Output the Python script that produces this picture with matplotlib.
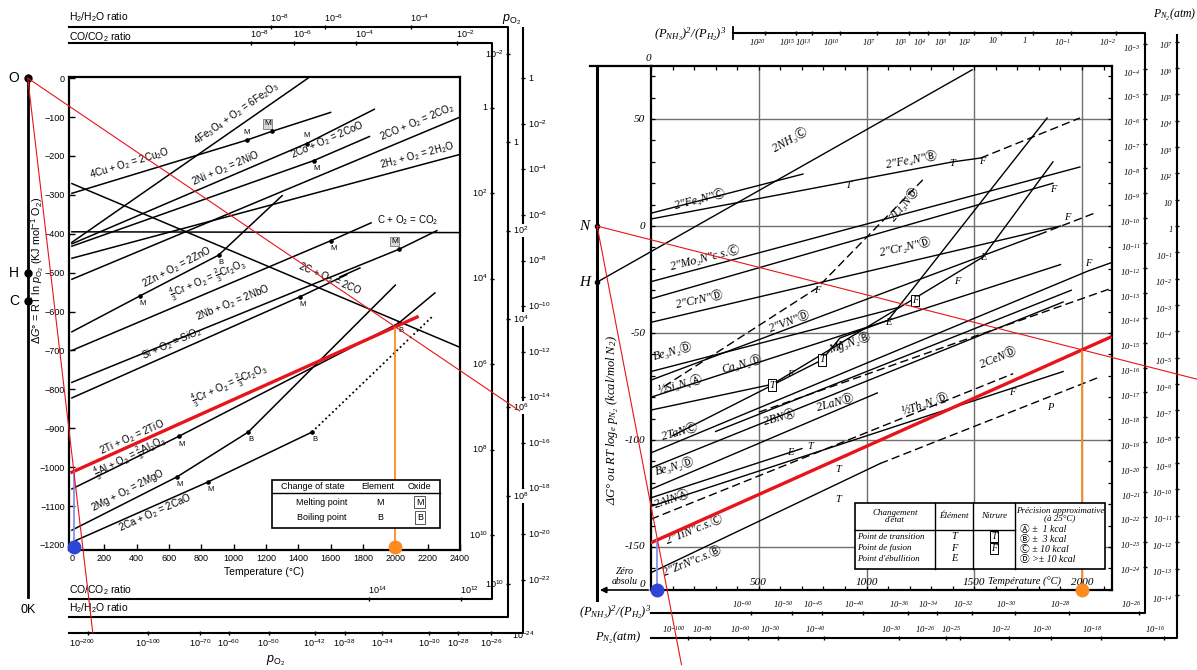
import numpy as np
import matplotlib.pyplot as plt
from matplotlib.patches import Rectangle

plt.rcParams['font.family'] = ['Liberation Sans', 'DejaVu Sans']
plt.rcParams['mathtext.fontset'] = 'custom'
plt.rcParams['mathtext.rm'] = 'Liberation Sans'
plt.rcParams['mathtext.it'] = 'Liberation Sans:italic'
plt.rcParams['mathtext.bf'] = 'Liberation Sans:bold'

SERIF = ['Liberation Serif', 'DejaVu Sans', 'Noto Sans CJK JP']
RED, BLUE, ORANGE = '#e8141c', '#2f45d8', '#ff8a1e'

# ==============================================================================
# Oxides: standard free energy (kJ per mol O2) against temperature (degC)
# marks: M/B = melting/boiling of element, [M] = melting of oxide, ^ = label above
# ==============================================================================
cu2o_T = [0, 1083, 1235, 1600]
cu2o_G = [-296, -159, -137, -88]
cu2o_m = ['', 'M^', '[M]', '']
fe2o3_T = [0, 1460]
fe2o3_G = [-422, 0]
nio_T = [0, 1452, 1870]
nio_G = [-426, -168, -80]
nio_m = ['', 'M^', '']
coo_T = [0, 1495, 1840]
coo_G = [-432, -212, -150]
coo_m = ['', 'M', '']
co2co_T = [0, 2400]
co2co_G = [-517, -100]
h2o_T = [0, 2400]
h2o_G = [-463, -196]
co2c_T = [0, 2400]
co2c_G = [-395, -397]
coc_T = [0, 2400]
coc_G = [-271, -692]
zno_T = [0, 420, 907, 1300]
zno_G = [-652, -560, -455, -302]
zno_m = ['', 'M', 'B', '']
cr2o3_T = [0, 1600, 1850]
cr2o3_G = [-700, -418, -372]
cr2o3_m = ['', 'M', '']
nbo_T = [0, 2022, 2257]
nbo_G = [-782, -440, -392]
nbo_m = ['', '[M]', '']
sio2_T = [0, 1410, 1700]
sio2_G = [-822, -562, -505]
sio2_m = ['', 'M', '']
mno_T = [1657, 1781]
mno_G = [-511, -488]
tio_T = [0, 2135]
tio_G = [-1013, -614]
al2o3_T = [0, 660, 2020, 2245]
al2o3_G = [-1056, -921, -630, -552]
al2o3_m = ['', 'M', 'B', '']
mgo_T = [0, 650, 1090, 2000]
mgo_G = [-1162, -1025, -910, -532]
mgo_m = ['', 'M', 'B', '']
cao_T = [0, 842, 1484]
cao_G = [-1193, -1038, -910]
cao_m = ['', 'M', 'B']
cao_gas_T = [1484, 2226]
cao_gas_G = [-910, -614]

# reading temperatures marked on the highlighted line
read_lo_T, read_hi_T = 12, 2000

# nomogram scales (powers of ten)
po2_right_exp = [0, -2, -4, -6, -8, -10, -12, -14, -16, -18, -20, -22]
po2_bottom_exp = [-200, -100, -70, -60, -50, -42, -38, -34, -30, -28, -26, -24]
h2_top_exp = [-8, -6, -4]
h2_right_exp = [-2, 0, 2, 4, 6, 8, 10]
co_top_exp = [-8, -6, -4, -2]
co_right_exp = [0, 2, 4, 6, 8, 10]
co_bottom_exp = [14, 12]

# ==============================================================================
# Nitrides: deltaG (kcal per mol N2) against temperature (degC)
# ==============================================================================
nh3_T = [-250, 1490]
nh3_G = [-26.2, 73]
fe4n_c_T = [0, 705]
fe4n_c_G = [6, 24.3]
fe4n_b_T = [0, 1400, 1530]
fe4n_b_G = [3.3, 30, 31.8]
fe4n_b2_T = [1530, 1990]
fe4n_b2_G = [31.8, 50.5]
mo2n_T = [0, 1990]
mo2n_G = [-26, 27.6]
cr2n_T = [0, 1865]
cr2n_G = [-34, 20]
crn_T = [0, 1900]
crn_G = [-45, 0]
vn_T = [0, 1800]
vn_G = [-72, -4]
vn2_T = [1800, 2070]
vn2_G = [-4, 6.5]
li3n_T = [60, 770, 1265]
li3n_G = [-75, -29, 22]
be3n2_T = [0, 1150]
be3n2_G = [-68, -38]
si3n4_T = [0, 1900]
si3n4_G = [-80, -18]
ca3n2_T = [0, 561, 645, 1540, 1865]
ca3n2_G = [-86, -74, -69, -14.5, 30]
mg3n2_T = [100, 793, 877, 1100, 1838]
mg3n2_G = [-98, -62.6, -52.3, -44, 50.5]
bn_T = [300, 1950]
bn_G = [-96, -30]
tan_T = [0, 2028, 2139]
tan_G = [-106, -21, -17]
ta2n_T = [500, 2139]
ta2n_G = [-87, -29]
cen_T = [0, 1912]
cen_G = [-113, -35.5]
lan_T = [0, 1050]
lan_G = [-123, -78]
be3n2b_T = [0, 700]
be3n2b_G = [-127, -104]
th3n4_T = [0, 1912]
th3n4_G = [-131, -68]
aln_T = [0, 1680]
aln_G = [-137, -69]
tin_T = [0, 2130]
tin_G = [-148, -52]
zrn_T = [0, 1063]
zrn_G = [-162, -111]
zrn2_T = [1063, 2070]
zrn2_G = [-111, -71]

# phase change letters on the nitride lines
nmark_T = [914, 1397, 1536, 1865, 1930, 770, 2028, 1540, 1100, 1225, 1420, 877,
           793, 561, 645, 738, 645, 868, 868, 1675, 1852]
nmark_G = [19, 29.4, 30, 17, 4, -30, -17.3, -14.5, -45, -34.6, -26, -55.6,
           -62.6, -74.3, -69.6, -103, -106, -114, -128, -77.6, -85]
nmark_txt = ['T', 'T', 'F', 'F', 'F', 'F', 'F', 'E', 'E', '[F]', 'F', 'F',
             '[T]', '[T]', 'F', 'T', 'E', 'T', 'T', 'F', 'P']

nh3_top_exp = [20, 15, 13, 10, 7, 5, 4, 3, 2, 1, 0, -1, -2]
nh3_right_exp = list(range(-3, -25, -1))
nh3_bottom_exp = [-60, -50, -45, -40, -36, -34, -32, -30, -28, -26]
pn2_right_exp = list(range(7, -15, -1))
pn2_bottom_exp = [-100, -80, -60, -50, -40, -30, -26, -25, -22, -20, -18, -16]


# ==============================================================================
# helpers
# ==============================================================================
fig = plt.figure(figsize=(11.97, 6.70), dpi=100)
FW, FH = 1197.0, 670.0


def frac_box(x0, y0, x1, y1):
    return [x0 / FW, 1 - y1 / FH, (x1 - x0) / FW, (y1 - y0) / FH]


def seg_angle(ax, T, G, t):
    i = int(np.clip(np.searchsorted(T, t) - 1, 0, len(T) - 2))
    p = ax.transData.transform([(T[i], G[i]), (T[i + 1], G[i + 1])])
    return np.degrees(np.arctan2(p[1, 1] - p[0, 1], p[1, 0] - p[0, 0]))


def put_marks(ax, T, G, marks):
    for t, g, m in zip(T, G, marks):
        if not m:
            continue
        ax.plot(t, g, 'o', ms=2.3, color='k', zorder=4)
        if m == 'M^':
            ax.annotate('M', (t, g), xytext=(0, 3), textcoords='offset points',
                        fontsize=5.5, ha='center', va='bottom')
        elif m == '[M]':
            ax.annotate('M', (t, g), xytext=(-3, 3), textcoords='offset points',
                        fontsize=6, ha='center', va='bottom',
                        bbox=dict(boxstyle='square,pad=0.15', fc='#d8d8d8', ec='#777777', lw=0.6))
        else:
            ax.annotate(m, (t, g), xytext=(2, -3), textcoords='offset points',
                        fontsize=5.5, ha='center', va='top')


def exp_label(e, regular=False):
    if e == 0:
        return '1'
    if regular:
        return '10' if e == 1 else r'$\mathregular{10^{%d}}$' % e
    return r'10$^{%d}$' % e


# ==============================================================================
# left diagram: oxides
# ==============================================================================
ax = fig.add_axes(frac_box(69, 77, 460, 550))
ax.set_xlim(-18, 2400)
ax.set_ylim(-1213, 3)
ax.set_xticks(range(0, 2401, 200))
ax.set_yticks(range(-1200, 1, 100))
ax.tick_params(direction='in', length=4, width=1, labelsize=6.5, pad=3)
for s in ax.spines.values():
    s.set_linewidth(1.6)
ax.set_xlabel('Temperature (°C)', fontsize=7.5, labelpad=3)

ox_lines = [(cu2o_T, cu2o_G, cu2o_m), (fe2o3_T, fe2o3_G, None), (nio_T, nio_G, nio_m),
            (coo_T, coo_G, coo_m), (co2co_T, co2co_G, None), (h2o_T, h2o_G, None),
            (co2c_T, co2c_G, None), (coc_T, coc_G, None), (zno_T, zno_G, zno_m),
            (cr2o3_T, cr2o3_G, cr2o3_m), (nbo_T, nbo_G, nbo_m), (sio2_T, sio2_G, sio2_m),
            (mno_T, mno_G, None), (tio_T, tio_G, None), (al2o3_T, al2o3_G, al2o3_m),
            (mgo_T, mgo_G, mgo_m), (cao_T, cao_G, cao_m)]
for T, G, m in ox_lines:
    ax.plot(T, G, color='k', lw=1.1, zorder=3)
    if m:
        put_marks(ax, T, G, m)
ax.plot(cao_gas_T, cao_gas_G, color='k', lw=1.3, ls=(0, (1, 1.6)), zorder=3)

ox_labels = [
    (r'4Cu + O$_2$ = 2Cu$_2$O', 359, -218, cu2o_T, cu2o_G),
    (r'4Fe$_3$O$_4$ + O$_2$ = 6Fe$_2$O$_3$', 1020, -92, fe2o3_T, fe2o3_G),
    (r'2Ni + O$_2$ = 2NiO', 952, -232, nio_T, nio_G),
    (r'2Co + O$_2$ = 2CoO', 1583, -159, coo_T, coo_G),
    (r'2CO + O$_2$ = 2CO$_2$', 2134, -113, co2co_T, co2co_G),
    (r'2H$_2$ + O$_2$ = 2H$_2$O', 2134, -198, h2o_T, h2o_G),
    (r'C + O$_2$ = CO$_2$', 2078, -365, co2c_T, co2c_G),
    (r'2C + O$_2$ = 2CO', 1596, -516, coc_T, coc_G),
    (r'2Zn + O$_2$ = 2ZnO', 649, -485, zno_T, zno_G),
    (r'$\frac{4}{3}$Cr + O$_2$ = $\frac{2}{3}$Cr$_2$O$_3$', 841, -519, cr2o3_T, cr2o3_G),
    (r'2Nb + O$_2$ = 2NbO', 996, -578, nbo_T, nbo_G),
    (r'Si + O$_2$ = SiO$_2$', 618, -683, sio2_T, sio2_G),
    (r'$\frac{4}{3}$Cr + O$_2$ = $\frac{2}{3}$Cr$_2$O$_3$', 977, -789, tio_T, tio_G),
    (r'2Ti + O$_2$ = 2TiO', 371, -922, tio_T, tio_G),
    (r'$\frac{4}{3}$Al + O$_2$ = $\frac{2}{3}$Al$_2$O$_3$', 359, -975, al2o3_T, al2o3_G),
    (r'2Mg + O$_2$ = 2MgO', 346, -1061, mgo_T, mgo_G),
    (r'2Ca + O$_2$ = 2CaO', 513, -1118, cao_T, cao_G),
]
for txt, t, g, T, G in ox_labels:
    ax.text(t, g, txt, fontsize=7, ha='center', va='center',
            rotation=seg_angle(ax, T, G, t), rotation_mode='anchor', zorder=4)

# highlighted line and readings
ax.plot(tio_T, tio_G, color=RED, lw=2.4, zorder=5)
g_lo = np.interp(read_lo_T, tio_T, tio_G)
g_hi = np.interp(read_hi_T, tio_T, tio_G)
ax.plot([read_lo_T, read_lo_T], [g_lo, -1205], color='#8391ea', lw=1.3, zorder=5)
ax.plot([read_hi_T, read_hi_T], [g_hi, -1205], color=ORANGE, lw=1.3, zorder=5)
ax.plot(read_lo_T, -1205, 'o', ms=9, color=BLUE, zorder=8, clip_on=False)
ax.plot(read_hi_T, -1205, 'o', ms=9, color=ORANGE, zorder=8, clip_on=False)

# change-of-state table
tb_T0, tb_T1, tb_Gt, tb_Gb, tb_Gh = 1237, 2276, -1033, -1157, -1066
ax.add_patch(Rectangle((tb_T0, tb_Gb), tb_T1 - tb_T0, tb_Gt - tb_Gb, fc='white', ec='k', lw=1.2, zorder=6))
ax.plot([tb_T0, tb_T1], [tb_Gh, tb_Gh], color='k', lw=1, zorder=7)
for txt, t in [('Change of state', 1490), ('Element', 1892), ('Oxide', 2152)]:
    ax.text(t, -1049, txt, fontsize=6.5, ha='center', va='center', zorder=7)
for txt, sym, g in [('Melting point', 'M', -1090), ('Boiling point', 'B', -1130)]:
    ax.text(1545, g, txt, fontsize=6.5, ha='center', va='center', zorder=7)
    ax.text(1905, g, sym, fontsize=6.5, ha='center', va='center', zorder=7)
    ax.text(2152, g, sym, fontsize=6.5, ha='center', va='center', zorder=7,
            bbox=dict(boxstyle='square,pad=0.2', fc='white', ec='#555555', lw=0.7))

# ---------------- nomogram around the oxide diagram ----------------
R_KJ = 8.314e-3
T_ABS = -273.0
T_LEFT = -18
PO2_T, PO2_G, PO2_TOP = 2789, -1426, 130
H2_TOP, H2_T, H2_BOT = 131, 2696, -1385
CO_TOP, CO_T, CO_BOT = 90, 2597, -1339
G_H, B_H = -500, 0.113
G_C, B_C = -573, 0.1733
G_ZERO_END = -1334

kw_line = dict(color='k', lw=1.5, clip_on=False, zorder=3, solid_capstyle='projecting')
ax.plot([T_ABS, T_ABS], [0, G_ZERO_END], color='k', lw=2, clip_on=False)
for g, name in [(0, 'O'), (G_H, 'H'), (G_C, 'C')]:
    ax.plot(T_ABS, g, 'o', ms=5, color='k', clip_on=False, zorder=6)
    ax.annotate(name, (T_ABS, g), xytext=(-10, 0), textcoords='offset points',
                fontsize=10, ha='center', va='center', annotation_clip=False)
ax.annotate('0K', (T_ABS, G_ZERO_END), xytext=(0, -5), textcoords='offset points',
            fontsize=9, ha='center', va='top', annotation_clip=False)
ax.text(-212, -495, r'$\Delta G°$ = RT ln $p_{\mathrm{O_2}}$ (KJ mol$^{-1}$ O$_2$)',
        rotation=90, fontsize=7.8, ha='center', va='center')

ax.plot([T_LEFT, PO2_T, PO2_T], [PO2_G, PO2_G, PO2_TOP], **kw_line)
ax.plot([T_LEFT, H2_T, H2_T, T_LEFT], [H2_TOP, H2_TOP, H2_BOT, H2_BOT], **kw_line)
ax.plot([T_LEFT, CO_T, CO_T, T_LEFT], [CO_TOP, CO_TOP, CO_BOT, CO_BOT], **kw_line)

ax.text(T_LEFT, 158, r'H$_2$/H$_2$O ratio', fontsize=7.5, ha='left', va='center')
ax.text(T_LEFT, 106, r'CO/CO$_2$ ratio', fontsize=7.5, ha='left', va='center')
ax.text(T_LEFT, -1315, r'CO/CO$_2$ ratio', fontsize=7.5, ha='left', va='center')
ax.text(T_LEFT, -1362, r'H$_2$/H$_2$O ratio', fontsize=7.5, ha='left', va='center')
ax.text(1260, -1497, r'$p_{\mathrm{O_2}}$', fontsize=9, ha='center', va='center')
ax.text(2720, 150, r'$p_{\mathrm{O_2}}$', fontsize=9, ha='center', va='center')


def hit(g0, slope, t_side, g_top, g_bot):
    g = g0 + slope * (t_side - T_ABS)
    if g > g_top:
        return (g_top - g0) / slope + T_ABS, g_top, 'top'
    if g < g_bot:
        return (g_bot - g0) / slope + T_ABS, g_bot, 'bottom'
    return t_side, g, 'side'


def scale_tick(ax, t, g, side, label, lab_side, fs=6.5, white=False, tick=True, dx=0, **tkw):
    if tick:
        ax.plot(t, g, marker='|' if side in ('top', 'bottom') else '_', ms=3.5, mew=1,
                color='k', clip_on=False, zorder=4)
    off = {'above': ((6, 2), 'center', 'bottom'), 'below': ((0, -3), 'center', 'top'),
           'right': ((4, 0), 'left', 'center'), 'left': ((-3, 0), 'right', 'center'),
           'below_l': ((-6, -3), 'center', 'top'), 'above_l': ((-6, 2), 'center', 'bottom'),
           'left_d': ((-3, -3), 'right', 'center')}[lab_side]
    bb = dict(boxstyle='square,pad=0.1', fc='white', ec='none') if white else None
    ax.annotate(label, (t, g), xytext=(off[0][0] + dx, off[0][1]), textcoords='offset points',
                ha=off[1], va=off[2], fontsize=fs, annotation_clip=False, bbox=bb, zorder=5, **tkw)


for e in po2_right_exp:
    t, g, side = hit(0, R_KJ * e * np.log(10), PO2_T, np.inf, PO2_G)
    scale_tick(ax, t, g, side, exp_label(e), 'right')
for e in po2_bottom_exp:
    t, g, side = hit(0, R_KJ * e * np.log(10), PO2_T, np.inf, PO2_G)
    scale_tick(ax, t, g, side, exp_label(e), 'below', tick=(side == 'bottom' and t < PO2_T),
               dx=-4 if e == -200 else 0)
for e in h2_top_exp + h2_right_exp:
    t, g, side = hit(G_H, B_H - 2 * R_KJ * e * np.log(10), H2_T, H2_TOP, H2_BOT)
    lab = 'above' if side == 'top' else ('left' if e in (-2, 10) else 'right')
    scale_tick(ax, t, g, side, exp_label(e), lab, white=(lab == 'right'))
for e in co_top_exp + co_right_exp + co_bottom_exp:
    t, g, side = hit(G_C, B_C - 2 * R_KJ * e * np.log(10), CO_T, CO_TOP, CO_BOT)
    lab = {'top': 'above', 'side': 'left', 'bottom': 'above'}[side]
    scale_tick(ax, t, g, side, exp_label(e), lab)

# rays from O through the two readings
s_lo = g_lo / (read_lo_T - T_ABS)
s_hi = g_hi / (read_hi_T - T_ABS)
ax.plot([T_ABS, PO2_G / s_lo + T_ABS], [0, PO2_G], color=RED, lw=0.8, clip_on=False, zorder=6)
ax.plot([T_ABS, PO2_T - 20], [0, s_hi * (PO2_T - 20 - T_ABS)], color=RED, lw=0.8, clip_on=False, zorder=6)

# ==============================================================================
# right diagram: nitrides
# ==============================================================================
axr = fig.add_axes(frac_box(651, 66, 1112, 590))
axr.set_xlim(0, 2139)
axr.set_ylim(-170.1, 74.8)
axr.set_xticks(range(0, 2101, 100))
axr.set_yticks(range(-170, 71, 10))
axr.tick_params(direction='in', length=3, width=0.9, labelbottom=False, labelleft=False,
                top=True, right=True)
for s in axr.spines.values():
    s.set_linewidth(1.6)
for t in [500, 1000, 1500, 2000]:
    axr.axvline(t, color='#6f6f6f', lw=1.0, zorder=1)
for g in [50, 0, -50, -100, -150]:
    axr.axhline(g, color='#6f6f6f', lw=1.0, zorder=1)

itf = dict(family=SERIF, style='italic')
for g, s in [(50, '50'), (0, '0'), (-50, '-50'), (-100, '-100'), (-150, '-150')]:
    axr.annotate(s, (0, g), xytext=(-4, 0), textcoords='offset points', ha='right', va='center',
                 fontsize=8, annotation_clip=False, **itf)
for t in [500, 1000, 1500, 2000]:
    axr.text(t, -166.5, str(t), fontsize=8, ha='center', va='center', zorder=7, **itf)
axr.text(1735, -166.5, 'Température (°C)', fontsize=7.5, ha='center', va='center', zorder=7, **itf)
axr.annotate('0', (0, 74.8), xytext=(-2, 2), textcoords='offset points', ha='center', va='bottom',
             fontsize=8, annotation_clip=False, **itf)
axr.annotate('0', (0, -170.1), xytext=(-4, 1), textcoords='offset points', ha='right', va='bottom',
             fontsize=8, annotation_clip=False, **itf)

n_solid = [(nh3_T, nh3_G), (fe4n_c_T, fe4n_c_G), (fe4n_b_T, fe4n_b_G), (mo2n_T, mo2n_G),
           (cr2n_T, cr2n_G), (crn_T, crn_G), (vn_T, vn_G), (be3n2_T, be3n2_G),
           (si3n4_T, si3n4_G), (ca3n2_T, ca3n2_G), (mg3n2_T, mg3n2_G), (bn_T, bn_G),
           (tan_T, tan_G), (cen_T, cen_G), (lan_T, lan_G), (be3n2b_T, be3n2b_G),
           (th3n4_T, th3n4_G), (tin_T, tin_G), (zrn_T, zrn_G)]
n_dashed = [(fe4n_b2_T, fe4n_b2_G), (vn2_T, vn2_G), (li3n_T, li3n_G), (ta2n_T, ta2n_G),
            (aln_T, aln_G), (zrn2_T, zrn2_G)]
for T, G in n_solid:
    axr.plot(T, G, color='k', lw=1.0, zorder=3, clip_on=False)
for T, G in n_dashed:
    axr.plot(T, G, color='k', lw=1.0, ls=(0, (6, 3)), zorder=3)

for t, g, s in zip(nmark_T, nmark_G, nmark_txt):
    boxed = s.startswith('[')
    axr.text(t, g, s.strip('[]'), fontsize=7.5, ha='center', va='center', zorder=4,
             bbox=dict(boxstyle='square,pad=0.1', fc='white', ec='k', lw=0.7) if boxed else None, **itf)

n_labels = [
    ('2NH₃Ⓒ', 645, 40.2, 29),
    ('2"Fe₄N"Ⓒ', 227, 12.1, 14),
    ('2"Fe₄N"Ⓑ', 1211, 30.8, 10),
    ('2Li₃NⒹ', 1179, 9.8, 50),
    ('2"Mo₂N"c.s.Ⓒ', 251, -15, 14),
    ('2"Cr₂N"Ⓓ', 1179, -10.3, 12),
    ('2"CrN"Ⓓ', 227, -34.6, 12),
    ('2"VN"Ⓓ', 645, -44.9, 20),
    ('Be₃N₂Ⓓ', 102, -58.9, 15),
    ('½Si₃N₄Ⓐ', 135, -74.3, 15),
    ('Ca₃N₂Ⓓ', 422, -65, 15),
    ('Mg₃N₂Ⓑ', 923, -54.7, 18),
    ('2BNⒶ', 599, -89.7, 15),
    ('2LaNⒹ', 854, -82.7, 15),
    ('2TaNⒸ', 135, -96.3, 15),
    ('2CeNⒹ', 1610, -61.7, 22),
    ('½Th₃N₄Ⓓ', 1271, -83.6, 18),
    ('Be₃N₂Ⓓ', 111, -112.6, 15),
    ('2AlNⒶ', 97, -128, 18),
    ('2"TiN"c.s.Ⓒ', 200, -142, 22),
    ('2"ZrN"c.s.Ⓑ', 190, -157, 22),
]
for txt, t, g, ang in n_labels:
    axr.text(t, g, txt, fontsize=8.5, ha='center', va='center', rotation=ang,
             rotation_mode='anchor', zorder=4, **itf)

# highlighted nitride line and readings
axr.plot(tin_T, tin_G, color=RED, lw=2.4, zorder=5)
gn_lo = np.interp(30, tin_T, tin_G)
gn_hi = np.interp(read_hi_T, tin_T, tin_G)
axr.plot([30, 30], [gn_lo, -170.1], color='#8391ea', lw=1.3, zorder=5)
axr.plot([read_hi_T, read_hi_T], [gn_hi, -170.1], color=ORANGE, lw=1.3, zorder=5)

# nitride table
ntb = dict(T0=947, T1=2107, Gt=-129.4, Gb=-160.3, Gh=-142)
axr.add_patch(Rectangle((ntb['T0'], ntb['Gb']), ntb['T1'] - ntb['T0'], ntb['Gt'] - ntb['Gb'],
                        fc='white', ec='k', lw=1.2, zorder=6))
axr.plot([ntb['T0'], 1689], [ntb['Gh'], ntb['Gh']], color='k', lw=1, zorder=7)
for t in [1318, 1494, 1689]:
    axr.plot([t, t], [ntb['Gt'], ntb['Gb']], color='k', lw=1, zorder=7)
tfs = 6.5
axr.text(1132, -135.7, "Changement\nd'état", fontsize=tfs, ha='center', va='center',
         linespacing=0.9, zorder=7, **itf)
axr.text(1406, -135.7, 'Élément', fontsize=tfs, ha='center', va='center', zorder=7, **itf)
axr.text(1592, -135.7, 'Nitrure', fontsize=tfs, ha='center', va='center', zorder=7, **itf)
axr.text(1898, -135.0, 'Précision approximative\n(à 25°C)', fontsize=tfs, ha='center',
         va='center', linespacing=0.9, zorder=7, **itf)
for txt, sym, g in [('Point de transition', 'T', -145.3), ('Point de fusion', 'F', -150.5),
                    ("Point d'ébullition", 'E', -155.6)]:
    axr.text(956, g, txt, fontsize=tfs, ha='left', va='center', zorder=7, **itf)
    axr.text(1406, g, sym, fontsize=7.5, ha='center', va='center', zorder=7, **itf)
for sym, g in [('T', -145.3), ('F', -150.5)]:
    axr.text(1592, g, sym, fontsize=7, ha='center', va='center', zorder=7,
             bbox=dict(boxstyle='square,pad=0.1', fc='white', ec='k', lw=0.7), **itf)
for txt, g in [('Ⓐ ±  1 kcal', -141.6), ('Ⓑ ±  3 kcal', -146.3), ('Ⓒ ± 10 kcal', -151.0),
               ('Ⓓ >± 10 kcal', -155.8)]:
    axr.text(1710, g, txt, fontsize=7, ha='left', va='center', zorder=7, **itf)

# ---------------- nomogram around the nitride diagram ----------------
R_KC = 1.987e-3
T_ABS_R = -250.0
G_NH, B_NH = -26.2, 0.0575
NH_TOP, NH_T, NH_BOT, NH_START = 90.2, 2292, -180.8, 380
PN_TOP, PN_T, PN_BOT = 89.3, 2441, -192.5
G_AXIS_TOP, G_AXIS_BOT = 74.8, -174.8
label_shift = {-100: -4, -26: -9}


def hit_r(g0, slope, t_side, g_top, g_bot):
    g = g0 + slope * (t_side - T_ABS_R)
    if g > g_top:
        return (g_top - g0) / slope + T_ABS_R, g_top, 'top'
    if g < g_bot:
        return (g_bot - g0) / slope + T_ABS_R, g_bot, 'bottom'
    return t_side, g, 'side'


axr.plot([T_ABS_R, T_ABS_R], [G_AXIS_TOP, G_AXIS_BOT], color='k', lw=2.2, clip_on=False)
axr.plot([-283, 0], [G_AXIS_TOP, G_AXIS_TOP], color='k', lw=1.6, clip_on=False)
axr.annotate('', xy=(T_ABS_R, -170.1), xytext=(0, -170.1),
             arrowprops=dict(arrowstyle='-|>', color='k', lw=1.2, mutation_scale=9),
             annotation_clip=False)
axr.text(-121, -161.5, 'Zéro', fontsize=7, ha='center', va='center', **itf)
axr.text(-121, -166.3, 'absolu', fontsize=7, ha='center', va='center', **itf)
for g, name in [(0, 'N'), (G_NH, 'H')]:
    axr.plot(T_ABS_R, g, 'o', ms=3, color='k', clip_on=False, zorder=6)
    axr.annotate(name, (T_ABS_R, g), xytext=(-9, 0), textcoords='offset points', fontsize=11,
                 ha='center', va='center', annotation_clip=False, **itf)
axr.text(-176, -90.7, r'$\mathregular{\Delta G°}$ ou RT log$\mathregular{_e}$ p$\mathregular{_{N_2}}$'
         r' (kcal/mol N$\mathregular{_2}$)', rotation=90, fontsize=9, ha='center', va='center', **itf)

axr.plot([NH_START, NH_T, NH_T, 0], [NH_TOP, NH_TOP, NH_BOT, NH_BOT], **kw_line)
axr.plot([NH_START, NH_START], [NH_TOP - 3, NH_TOP + 3], color='k', lw=1.3, clip_on=False)
axr.plot([PN_T, PN_T, 0], [PN_TOP, PN_BOT, PN_BOT], **kw_line)
nh3_lab = r'$\mathregular{(P_{NH_3})^2/(P_{H_2})^3}$'
axr.text(181, 89.5, nh3_lab, fontsize=9, ha='center', va='center', **itf)
axr.text(-167, -180.5, nh3_lab, fontsize=9, ha='center', va='center', **itf)
axr.text(-153, -192.5, r'$\mathregular{P_{N_2}}$(atm)', fontsize=9, ha='center', va='center', **itf)
axr.text(2431, 98.6, r'$\mathregular{P_{N_2}}$(atm)', fontsize=8.5, ha='center', va='center', **itf)

for e in nh3_top_exp + nh3_right_exp + nh3_bottom_exp:
    t, g, side = hit_r(G_NH, B_NH + R_KC * e * np.log(10), NH_T, NH_TOP, NH_BOT)
    lab = {'top': 'below_l', 'side': 'left_d', 'bottom': 'above_l'}[side]
    scale_tick(axr, t, g, side, exp_label(e, True), lab, fs=6.2, **itf)
for e in pn2_right_exp + pn2_bottom_exp:
    t, g, side = hit_r(0, R_KC * e * np.log(10), PN_T, np.inf, PN_BOT)
    lab = {'side': 'left_d', 'bottom': 'above_l'}[side]
    shift = label_shift.get(e, 0) if side == 'bottom' else 0
    scale_tick(axr, t, g, side, exp_label(e, True), lab, fs=6.2, dx=shift, **itf)

# rays from N through the two readings
sn_lo = gn_lo / (30 - T_ABS_R)
sn_hi = gn_hi / (read_hi_T - T_ABS_R)
axr.plot([T_ABS_R, -205 / sn_lo + T_ABS_R], [0, -205], color=RED, lw=0.8, clip_on=False, zorder=6)
axr.plot([T_ABS_R, 2534], [0, sn_hi * (2534 - T_ABS_R)], color=RED, lw=0.8, clip_on=False, zorder=6)
axr.plot(30, -170.1, 'o', ms=9, color=BLUE, zorder=8, clip_on=False)
axr.plot(read_hi_T, -170.1, 'o', ms=9, color=ORANGE, zorder=8, clip_on=False)

fig.savefig('out.png', dpi=100, facecolor='white')
